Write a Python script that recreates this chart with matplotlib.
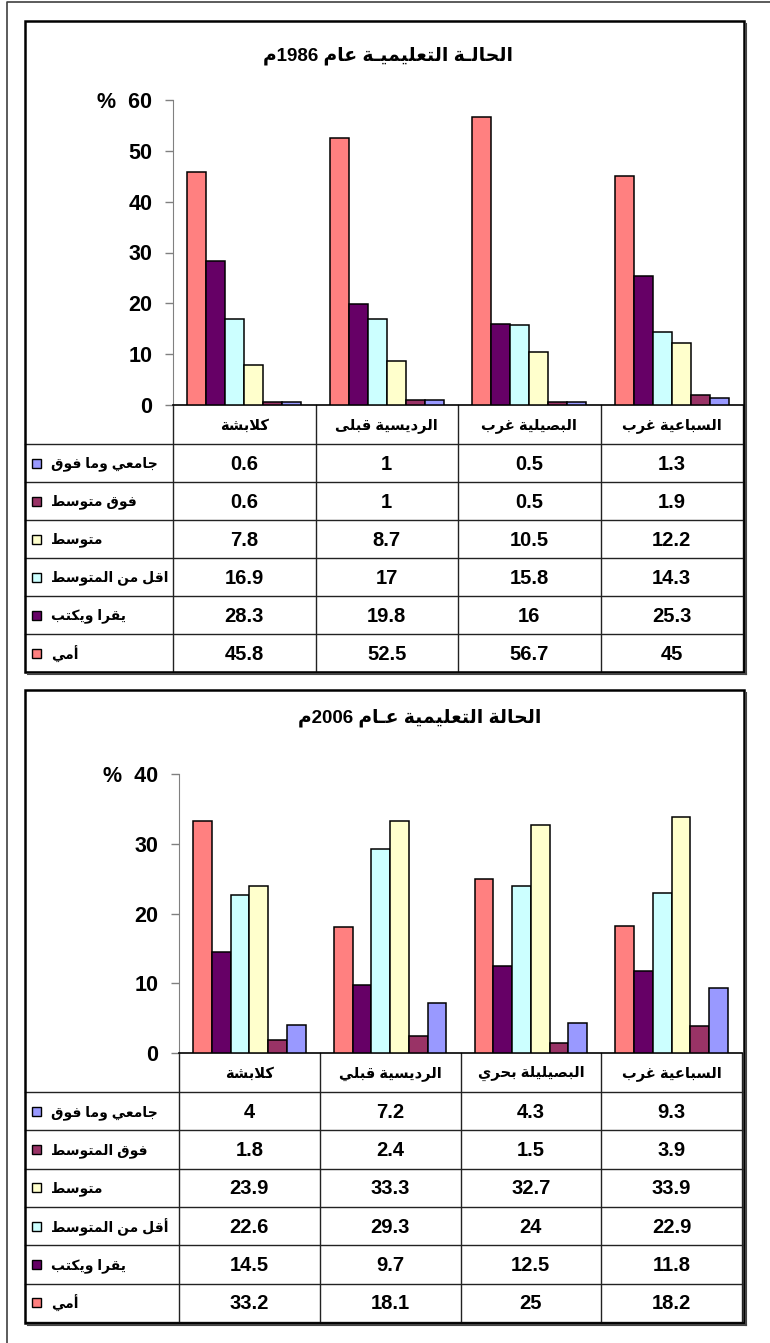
import re
import matplotlib
matplotlib.use("Agg")
import matplotlib.pyplot as plt
from matplotlib.patches import Rectangle

plt.rcParams['font.family'] = ['Liberation Sans', 'DejaVu Sans']
plt.rcParams['font.weight'] = 'bold'

# ---- data ----
series_1986 = ['أمي', 'يقرا ويكتب', 'اقل من المتوسط', 'متوسط', 'فوق متوسط', 'جامعي وما فوق']
series_2006 = ['أمي', 'يقرا ويكتب', 'أقل من المتوسط', 'متوسط', 'فوق المتوسط', 'جامعي وما فوق']
series_colors = ['#FF8080', '#660066', '#CCFFFF', '#FFFFCC', '#993366', '#9999FF']

villages_1986 = ['كلابشة', 'الرديسية قبلى', 'البصيلية غرب', 'السباعية غرب']
villages_2006 = ['كلابشة', 'الرديسية قبلي', 'البصيليلة بحري', 'السباعية غرب']

values_1986 = [
    [45.8, 52.5, 56.7, 45],
    [28.3, 19.8, 16, 25.3],
    [16.9, 17, 15.8, 14.3],
    [7.8, 8.7, 10.5, 12.2],
    [0.6, 1, 0.5, 1.9],
    [0.6, 1, 0.5, 1.3],
]
values_2006 = [
    [33.2, 18.1, 25, 18.2],
    [14.5, 9.7, 12.5, 11.8],
    [22.6, 29.3, 24, 22.9],
    [23.9, 33.3, 32.7, 33.9],
    [1.8, 2.4, 1.5, 3.9],
    [4, 7.2, 4.3, 9.3],
]

title_1986 = 'الحالـة التعليميـة عام 1986م'
title_2006 = 'الحالة التعليمية عـام 2006م'

# ---- minimal arabic shaping (matplotlib has no text shaping) ----
_DUAL = {'ئ': 0xFE89, 'ب': 0xFE8F, 'ت': 0xFE95, 'ث': 0xFE99, 'ج': 0xFE9D, 'ح': 0xFEA1,
         'خ': 0xFEA5, 'س': 0xFEB1, 'ش': 0xFEB5, 'ص': 0xFEB9, 'ض': 0xFEBD, 'ط': 0xFEC1,
         'ظ': 0xFEC5, 'ع': 0xFEC9, 'غ': 0xFECD, 'ف': 0xFED1, 'ق': 0xFED5, 'ك': 0xFED9,
         'ل': 0xFEDD, 'م': 0xFEE1, 'ن': 0xFEE5, 'ه': 0xFEE9, 'ي': 0xFEF1}
_RIGHT = {'آ': 0xFE81, 'أ': 0xFE83, 'ؤ': 0xFE85, 'إ': 0xFE87, 'ا': 0xFE8D, 'ة': 0xFE93,
          'د': 0xFEA9, 'ذ': 0xFEAB, 'ر': 0xFEAD, 'ز': 0xFEAF, 'و': 0xFEED, 'ى': 0xFEEF}
_LAM_ALEF = {'آ': 0xFEF5, 'أ': 0xFEF7, 'إ': 0xFEF9, 'ا': 0xFEFB}


def shape(text):
    units = []
    i = 0
    while i < len(text):
        c = text[i]
        if c == 'ل' and i + 1 < len(text) and text[i + 1] in _LAM_ALEF:
            units.append((_LAM_ALEF[text[i + 1]], 'R'))
            i += 2
            continue
        if c in _DUAL:
            units.append((_DUAL[c], 'D'))
        elif c in _RIGHT:
            units.append((_RIGHT[c], 'R'))
        elif c == 'ـ':
            units.append((c, 'T'))
        else:
            units.append((c, None))
        i += 1
    out = []
    for k, (base, kind) in enumerate(units):
        if kind in (None, 'T'):
            out.append(base)
            continue
        prev = units[k - 1][1] if k > 0 else None
        nxt = units[k + 1][1] if k + 1 < len(units) else None
        jp = prev in ('D', 'T')
        jn = kind == 'D' and nxt in ('D', 'R', 'T')
        if kind == 'R':
            off = 1 if jp else 0
        else:
            off = 3 if (jp and jn) else 1 if jp else 2 if jn else 0
        out.append(chr(base + off))
    return ''.join(out)


def ar(text):
    s = shape(text)[::-1]
    return re.sub(r'[0-9.]+', lambda m: m.group(0)[::-1], s)


W, H = 770, 1343
fig = plt.figure(figsize=(W / 100, H / 100), dpi=100)
bg = fig.add_axes([0, 0, 1, 1])
bg.set_xlim(0, W)
bg.set_ylim(H, 0)
bg.axis('off')

# outer frame
bg.plot([7, 7, W + 5], [H + 5, 1.5, 1.5], color='#404040', lw=1.2)


def draw_panel(layout, title, cats, names, vals, ymax):
    x0, y0b, x1, y1b = layout['box']
    lab_x, right = layout['lab_x'], layout['right']
    ytop, yzero = layout['ytop'], layout['yzero']
    hdr, bottom = layout['hdr'], layout['bottom']

    # chart box with shadow
    bg.add_patch(Rectangle((x0, y0b), x1 - x0, y1b - y0b, fill=False, ec='black', lw=1.8, zorder=5))
    bg.plot([x1 + 2, x1 + 2], [y0b + 3, y1b + 2], color='#444444', lw=1.5, zorder=5)
    bg.plot([x0 + 3, x1 + 2], [y1b + 2, y1b + 2], color='#444444', lw=1.5, zorder=5)

    bg.text(layout['title_x'], layout['title_y'], ar(title), ha='center', va='center',
            fontsize=13.5, fontweight='bold')

    ax = fig.add_axes([lab_x / W, 1 - yzero / H, (right - lab_x) / W, (yzero - ytop) / H])
    ax.patch.set_visible(False)
    ncat = len(cats)
    nser = len(vals)
    bw = 0.8 / nser
    for s in range(nser):
        xs = [c + (s - (nser - 1) / 2) * bw for c in range(ncat)]
        ax.bar(xs, vals[s], bw, color=series_colors[s], edgecolor='black', linewidth=1.1, zorder=3)
    ax.set_xlim(-0.5, ncat - 0.5)
    ax.set_ylim(0, ymax)
    ticks = list(range(0, ymax + 1, 10))
    ax.set_yticks(ticks)
    ax.set_yticklabels([str(t) for t in ticks[:-1]] + ['%  ' + str(ticks[-1])])
    ax.set_xticks([])
    for sp in ('top', 'right'):
        ax.spines[sp].set_visible(False)
    ax.spines['left'].set_color('#808080')
    ax.spines['bottom'].set_color('black')
    ax.spines['bottom'].set_linewidth(1.2)
    ax.tick_params(axis='y', direction='out', length=6, color='#808080', width=1,
                   labelsize=15.5, pad=9)
    for lbl in ax.get_yticklabels():
        lbl.set_fontweight('bold')

    # data table under the chart
    colw = (right - lab_x) / ncat
    rowh = (bottom - hdr) / nser
    lc = '#222222'
    for j in range(ncat + 1):
        bg.plot([lab_x + j * colw] * 2, [yzero, bottom], color=lc, lw=1)
    for r in range(nser + 1):
        bg.plot([x0, right], [hdr + r * rowh] * 2, color=lc, lw=1)
    for j, cat in enumerate(cats):
        bg.text(lab_x + (j + 0.5) * colw, (yzero + hdr) / 2 + 1, ar(cat), ha='center', va='center',
                fontsize=10.5, fontweight='bold')
    for r in range(nser):
        s = nser - 1 - r
        yc = hdr + (r + 0.5) * rowh
        bg.add_patch(Rectangle((32, yc - 4.5), 9, 9, facecolor=series_colors[s],
                               edgecolor='black', lw=1))
        bg.text(51, yc + 1, ar(names[s]), ha='left', va='center', fontsize=10, fontweight='bold')
        for j in range(ncat):
            bg.text(lab_x + (j + 0.5) * colw, yc + 1, '{:g}'.format(vals[s][j]), ha='center',
                    va='center', fontsize=14.5, fontweight='bold')


layout_1986 = dict(box=(25, 21, 744, 672), lab_x=173, right=743, ytop=100, yzero=405,
                   hdr=444, bottom=672, title_x=388, title_y=56)
layout_2006 = dict(box=(25, 690, 744, 1323), lab_x=179, right=742, ytop=774, yzero=1053,
                   hdr=1092, bottom=1322, title_x=420, title_y=718)

draw_panel(layout_1986, title_1986, villages_1986, series_1986, values_1986, 60)
draw_panel(layout_2006, title_2006, villages_2006, series_2006, values_2006, 40)

fig.savefig('out.png', dpi=100)
